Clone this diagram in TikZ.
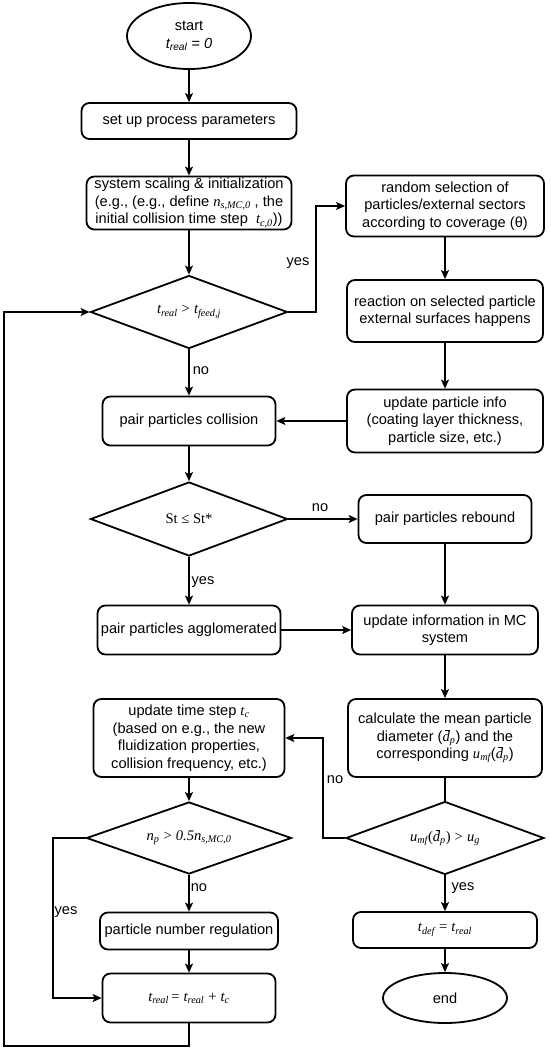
\documentclass[tikz,border=0pt]{standalone}
\usepackage{fontspec}
\setmainfont{Liberation Sans}
\newfontfamily\tms{Liberation Serif}
\usetikzlibrary{shapes.geometric,arrows.meta,calc}
\newcommand\mi[1]{{\tms\itshape #1}}
\newcommand\msb[1]{\textsubscript{\tms\itshape #1}}
\newcommand\dbar{\mbox{\tms\itshape d\llap{\raisebox{0.74em}{\rule{0.3em}{0.05em}}\hspace{0.02em}}}}
\tikzset{
  txt/.style={font=\fontsize{14.6}{17.5}\selectfont},
  box/.style={txt, draw, line width=1.8pt, rounded corners=8pt, align=center, inner sep=0pt},
  dia/.style={txt, draw, line width=1.8pt, diamond, aspect=2.7, inner sep=0pt},
  oval/.style={txt, draw, line width=1.8pt, ellipse, inner sep=0pt, align=center},
  conn/.style={line width=1.2pt},
  arr/.style={conn, -{Stealth[length=9pt,width=8pt,inset=2pt]}},
  lbl/.style={txt, inner sep=0pt}
}
\begin{document}
\begin{tikzpicture}[x=1pt,y=-1pt]
\useasboundingbox (0,0) rectangle (550,1050);
% left column
\node[oval, minimum width=124pt, minimum height=66pt] (start) at (189,36) {start\\{\itshape t\textsubscript{real} = 0}};
\node[box, minimum width=215pt, minimum height=36pt] (setup) at (189,121) {set up process parameters};
\node[box, minimum width=205pt, minimum height=53pt] (sys) at (189,203) {system scaling \& initialization\\(e.g., (e.g., define \mi{n}\msb{s,MC,0} , the\\initial collision time step \ \mi{t}\msb{c,0}))};
\node[dia, minimum width=197pt, minimum height=73pt] (d1) at (189,312) {\mi{t}\msb{real} {\tms >} \mi{t}\msb{feed,j}};
\node[box, minimum width=173pt, minimum height=49pt] (coll) at (189,421) {pair particles collision};
\node[dia, minimum width=197pt, minimum height=74pt] (d2) at (189,519) {{\tms St ≤ St*}};
\node[box, minimum width=183pt, minimum height=49pt] (aggl) at (189,630) {pair particles agglomerated};
\node[box, minimum width=191pt, minimum height=78pt] (upd) at (189,738) {update time step \mi{t}\msb{c}\\(based on e.g., the new\\fluidization properties,\\collision frequency, etc.)};
\node[dia, minimum width=205pt, minimum height=72pt] (d3) at (189,838) {\mi{n}\msb{p} {\tms >} \mi{0.5n}\msb{s,MC,0}};
\node[box, minimum width=178pt, minimum height=37pt] (pnr) at (189,931) {particle number regulation};
\node[box, minimum width=173pt, minimum height=49pt] (treal) at (189,998) {\mi{t}\msb{real}{\tms\,=} \mi{t}\msb{real} {\tms +} \mi{t}\msb{c}};
% right column
\node[box, minimum width=198pt, minimum height=61pt] (rand) at (445,206) {random selection of\\particles/external sectors\\according to coverage (θ)};
\node[box, minimum width=196pt, minimum height=62pt] (react) at (445,311) {reaction on selected particle\\external surfaces happens};
\node[box, minimum width=196pt, minimum height=63pt] (info) at (445,421) {update particle info\\(coating layer thickness,\\particle size, etc.)};
\node[box, minimum width=173pt, minimum height=48pt] (reb) at (445,519) {pair particles rebound};
\node[box, minimum width=186pt, minimum height=49pt] (mc) at (445,630) {update information in MC\\system};
\node[box, minimum width=194pt, minimum height=78pt] (calc) at (445,738) {calculate the mean particle\\diameter ({\dbar}\msb{p}) and the\\corresponding \mi{u}\msb{mf}({\dbar}\msb{p})};
\node[dia, minimum width=198pt, minimum height=73pt] (d4) at (445,838) {\mi{u}\msb{mf}{\tms(}{\dbar}\msb{p}{\tms)} {\tms >} \mi{u}\msb{g}};
\node[box, minimum width=184pt, minimum height=36pt] (tdef) at (445,930) {\mi{t}\msb{def} {\tms =} \mi{t}\msb{real}};
\node[oval, minimum width=124pt, minimum height=50pt] (end) at (445,998) {end};
% helper coordinates
\coordinate (k1) at (316,312);
\coordinate (k2) at (323,838);
\coordinate (k3) at (53,838);
\coordinate (k4) at (4,1046);
% connectors
\draw[arr] (start) -- (setup);
\draw[arr] (setup) -- (sys);
\draw[arr] (sys) -- (d1);
\draw[arr] (d1) -- (coll);
\draw[arr] (coll) -- (d2);
\draw[arr] (d2) -- (aggl);
\draw[arr] (upd) -- (d3);
\draw[arr] (d3) -- (pnr);
\draw[arr] (pnr) -- (treal);
\draw[arr] (d1.east) -- (k1) |- (rand.west);
\draw[arr] (rand) -- (react);
\draw[arr] (react) -- (info);
\draw[arr] (info.west) -- (coll.east);
\draw[arr] (d2.east) -- (reb.west);
\draw[arr] (reb) -- (mc);
\draw[arr] (aggl.east) -- (mc.west);
\draw[arr] (mc) -- (calc);
\draw[conn] (calc) -- (d4);
\draw[arr] (d4) -- (tdef);
\draw[arr] (tdef) -- (end);
\draw[arr] (d4.west) -- (k2) |- (upd.east);
\draw[arr] (d3.west) -- (k3) |- (treal.west);
\draw[arr] (treal.south) |- (k4) |- (d1.west);
% labels
\node[lbl] (l1) at (298,263) {yes};
\node[lbl] (l2) at (201,371) {no};
\node[lbl] (l3) at (320,508) {no};
\node[lbl] (l4) at (203,582) {yes};
\node[lbl] (l5) at (335,780) {no};
\node[lbl] (l6) at (199,888) {no};
\node[lbl] (l7) at (66,912) {yes};
\node[lbl] (l8) at (463,888) {yes};
\end{tikzpicture}
\end{document}
